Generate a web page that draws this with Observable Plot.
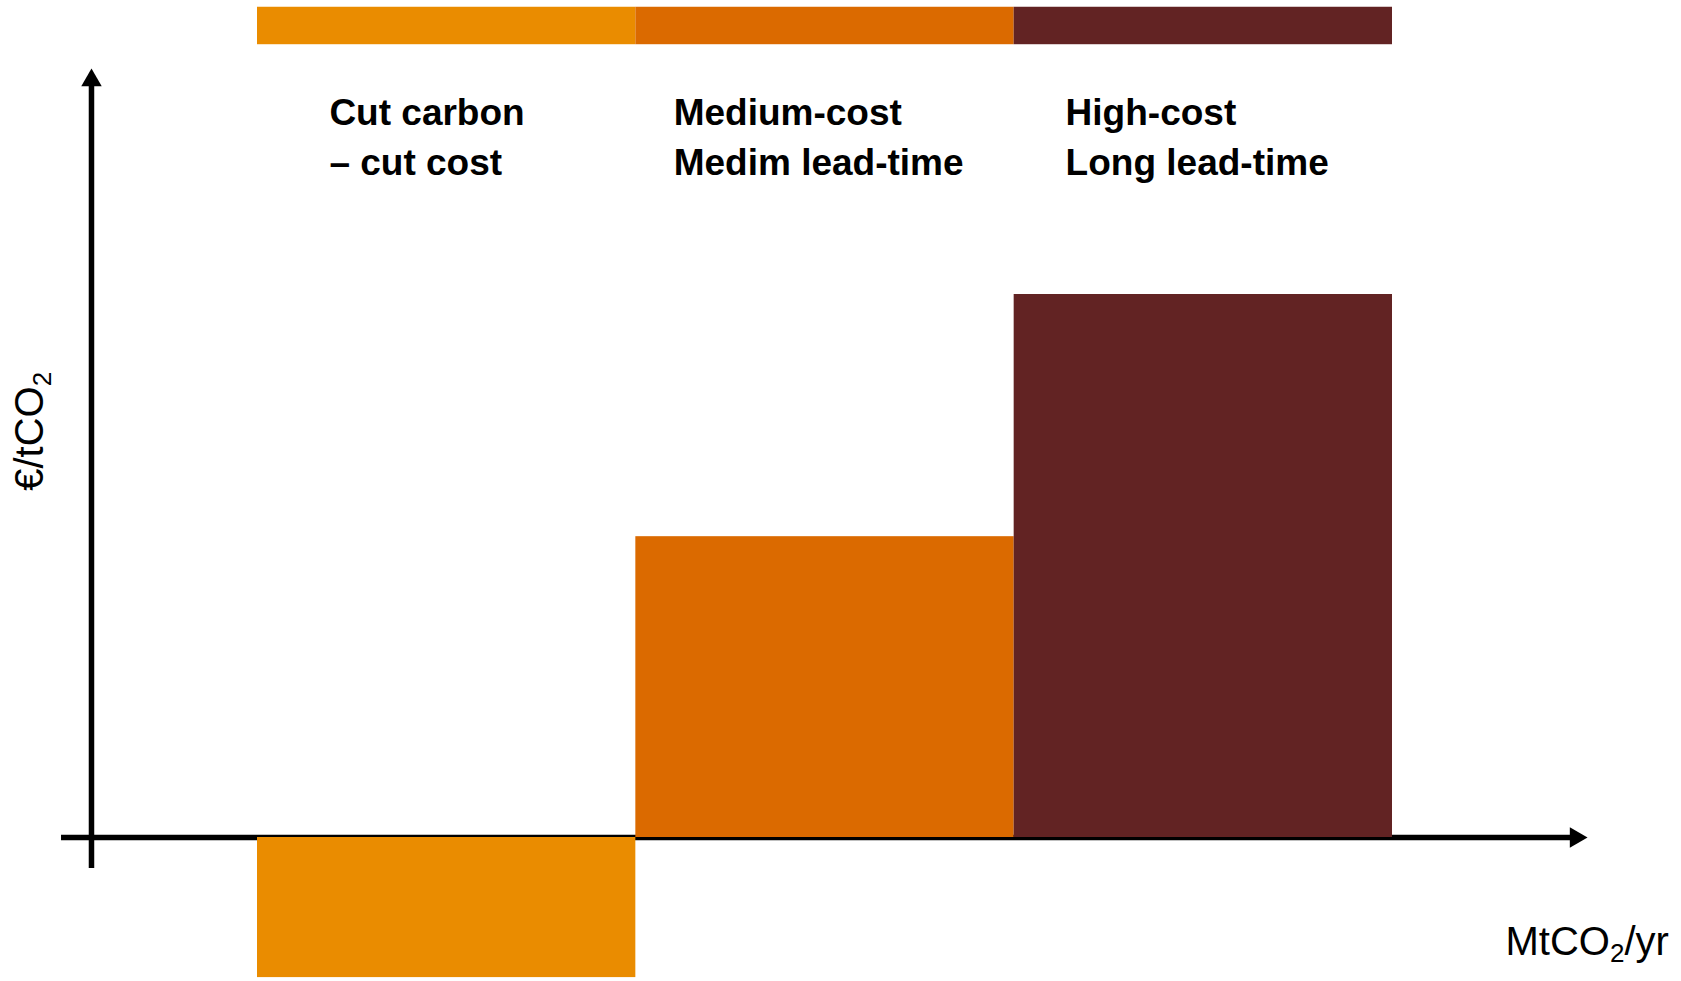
<!DOCTYPE html>
<html>
<head>
<meta charset="utf-8">
<script src="https://cdn.jsdelivr.net/npm/d3@7"></script>
<script src="https://cdn.jsdelivr.net/npm/@observablehq/plot@0.6"></script>
<style>
  html, body { margin: 0; padding: 0; background: #fff; }
  #chart svg { display: block; }
</style>
</head>
<body>
<div id="chart"></div>
<script>
// Categories (abatement blocks along MtCO2/yr)
const categories = ["Cut carbon – cut cost", "Medium-cost, medium lead-time", "High-cost, long lead-time"];
const labelLines = ["Cut carbon\n– cut cost", "Medium-cost\nMedim lead-time", "High-cost\nLong lead-time"];
// Abatement extents (MtCO2/yr, schematic units)
const abatementStart = [0, 1, 2];
const abatementEnd = [1, 2, 3];
// Cost (€/tCO2, schematic units)
const cost = [-25.8, 55.4, 100];
const colors = ["#EA8C00", "#DB6A00", "#622323"];
// Label anchors in data units
const labelX = [0.19, 1.10, 2.136];
const labelY = 122.0;
// Header band (in €/tCO2 units)
const bandLow = 146.0;
const bandHigh = 152.9;
// Axis extents (data units)
const xAxisFrom = -0.518, xAxisTo = 3.484, xAxisTip = 3.5155;
const yAxisAt = -0.4388, yAxisFrom = -5.7, yAxisTo = 139.4, yAxisTip = 141.6;
// Axis titles
const yTitle = "€/tCO₂";
const xTitle = "MtCO₂/yr";

const blocks = categories.map((c, i) => ({
  category: c, x1: abatementStart[i], x2: abatementEnd[i], cost: cost[i],
  label: labelLines[i], lx: labelX[i]
}));

const font = "'Liberation Sans', Arial, sans-serif";

const chart = Plot.plot({
  width: 1681,
  height: 981,
  marginTop: 0, marginRight: 0, marginBottom: 0, marginLeft: 0,
  style: {fontFamily: font, background: "#fff"},
  x: {type: "linear", domain: [0, 3], range: [257, 1392], axis: null},
  y: {type: "linear", domain: [0, 100], range: [837, 294], axis: null},
  color: {domain: categories, range: colors},
  marks: [
    // axes
    Plot.ruleY([0], {x1: xAxisFrom, x2: xAxisTo, stroke: "#000", strokeWidth: 5.5}),
    Plot.ruleX([yAxisAt], {y1: yAxisFrom, y2: yAxisTo, stroke: "#000", strokeWidth: 5.5}),
    Plot.dot([0], {x: xAxisTip, y: 0, symbol: "triangle", r: 7.6, fill: "#000", stroke: null, rotate: 90, dx: -11.8}),
    Plot.dot([0], {x: yAxisAt, y: yAxisTip, symbol: "triangle", r: 7.6, fill: "#000", stroke: null, dy: 11.8}),
    // bars
    Plot.rectY(blocks, {x1: "x1", x2: "x2", y1: 0, y2: "cost", fill: "category"}),
    // header band
    Plot.rect(blocks, {x1: "x1", x2: "x2", y1: bandLow, y2: bandHigh, fill: "category"}),
    // labels
    Plot.text(blocks, {x: "lx", y: labelY, text: "label", textAnchor: "start", lineAnchor: "bottom",
      lineHeight: 1.35, fontSize: 37, fontWeight: "bold", fill: "#000"}),
    // axis titles
    Plot.text([yTitle], {x: -0.5657, y: 74.8, text: d => d, rotate: -90, textAnchor: "middle",
      lineAnchor: "bottom", fontSize: 40, fill: "#000"}),
    Plot.text([xTitle], {x: 3.2987, y: -21.55, text: d => d, textAnchor: "start",
      lineAnchor: "bottom", fontSize: 40, fill: "#000"})
  ]
});

// Render the subscript "₂" as a lowered, smaller "2"
d3.select(chart).selectAll("text").each(function () {
  const t = this.textContent;
  if (!t.includes("₂") || this.querySelector("tspan")) return;
  const parts = t.split("₂");
  this.textContent = "";
  let pendingShift = false;
  parts.forEach((p, i) => {
    if (p) {
      const s = d3.select(this).append("tspan").text(p);
      if (pendingShift) { s.attr("dy", "-0.195em"); pendingShift = false; }
    }
    if (i < parts.length - 1) {
      d3.select(this).append("tspan").attr("font-size", "0.65em").attr("dy", "0.3em").text("2");
      pendingShift = true;
    }
  });
});

document.getElementById("chart").appendChild(chart);
</script>
</body>
</html>
